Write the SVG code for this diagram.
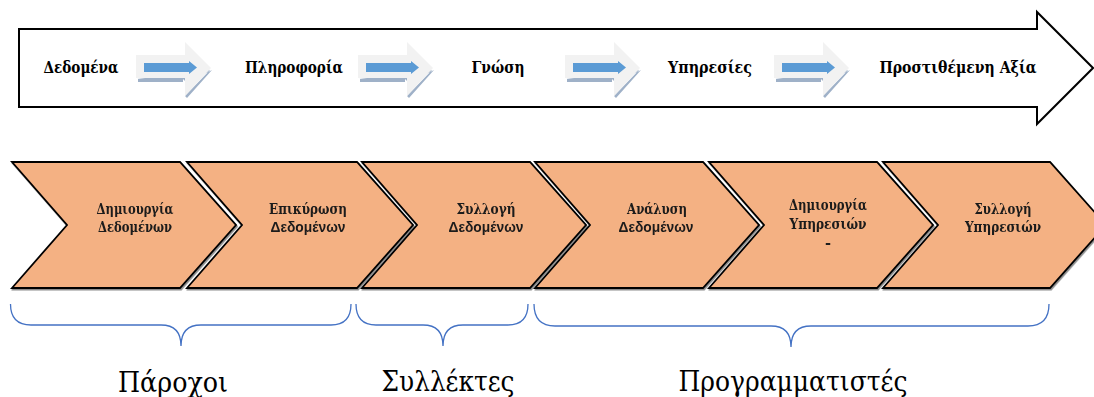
<svg xmlns="http://www.w3.org/2000/svg" width="1094" height="397" viewBox="0 0 1094 397">
  <style>
    .outline { fill: #ffffff; stroke: #000000; stroke-width: 2; }
    .chev { fill: #f4b183; stroke: #000000; stroke-width: 1.8; stroke-linejoin: miter; }
    .head { font-family: "DejaVu Serif", "Liberation Serif", serif; font-weight: bold; font-size: 16.5px; fill: #000000; text-anchor: middle; }
    .lbl { font-family: "DejaVu Serif", "Liberation Serif", serif; font-weight: bold; font-size: 14.5px; fill: #1a1a1a; text-anchor: middle; }
    .lbl-sans { font-family: "Liberation Sans", Arial, sans-serif; font-weight: bold; font-size: 14px; fill: #1a1a1a; text-anchor: middle; }
    .brace { fill: none; stroke: #4472c4; stroke-width: 1.3; }
    .role { font-family: "DejaVu Serif", "Liberation Serif", serif; font-size: 28px; fill: #000000; text-anchor: middle; }
  </style>
  <defs>
    <!-- small block arrow: light body, grey-blue bevel shadow, blue inner arrow -->
    <g id="step-arrow">
      <path d="M1,44 H47 L51,48 L76,35 L51,63 L49,61 L74,35 Z" fill="#9fb1c8"/>
      <path d="M2,44 H47 V47 H2 Z" fill="#9fb1c8"/>
      <path d="M0,20 H49 V7 L75,33 L49,61 V43 H0 Z" fill="#f2f2f2"/>
      <path d="M8,28 H53 V26 L61,32.5 L53,39 V37 H8 Z" fill="#5b9bd5"/>
    </g>
    <filter id="soft-shadow" x="-5%" y="-5%" width="110%" height="115%">
      <feDropShadow dx="1" dy="1.5" stdDeviation="0.6" flood-color="#000000" flood-opacity="0.45"/>
    </filter>
  </defs>

  <!-- value chain banner -->
  <g id="value-chain">
    <path class="outline" d="M19,29 H1037 V12 L1093,68 L1037,124 V107 H19 Z"/>
    <text class="head" x="81" y="73" textLength="75" lengthAdjust="spacingAndGlyphs">Δεδομένα</text>
    <text class="head" x="294" y="73" textLength="98" lengthAdjust="spacingAndGlyphs">Πληροφορία</text>
    <text class="head" x="498" y="73" textLength="53" lengthAdjust="spacingAndGlyphs">Γνώση</text>
    <text class="head" x="710" y="73" textLength="84" lengthAdjust="spacingAndGlyphs">Υπηρεσίες</text>
    <text class="head" x="958" y="73" textLength="157" lengthAdjust="spacingAndGlyphs">Προστιθέμενη Αξία</text>
  </g>

  <g id="connectors">
    <use href="#step-arrow" x="136" y="35"/>
    <use href="#step-arrow" x="358" y="35"/>
    <use href="#step-arrow" x="565" y="35"/>
    <use href="#step-arrow" x="774" y="35"/>
  </g>

  <!-- process chevrons -->
  <g id="chevron-1" filter="url(#soft-shadow)">
    <path class="chev" d="M12,162 H180 L236,225 L180,288 H12 L67,225 Z"/>
    <text class="lbl" x="135" y="214" textLength="77" lengthAdjust="spacingAndGlyphs">Δημιουργία</text>
    <text class="lbl" x="135" y="232" textLength="74" lengthAdjust="spacingAndGlyphs">Δεδομένων</text>
  </g>
  <g id="chevron-2" filter="url(#soft-shadow)">
    <path class="chev" d="M187,162 H357 L413,225 L357,288 H187 L242,225 Z"/>
    <text class="lbl" x="308" y="214" textLength="78" lengthAdjust="spacingAndGlyphs">Επικύρωση</text>
    <text class="lbl-sans" x="308" y="232" textLength="75" lengthAdjust="spacingAndGlyphs">Δεδομένων</text>
  </g>
  <g id="chevron-3" filter="url(#soft-shadow)">
    <path class="chev" d="M362,162 H530 L586,225 L530,288 H362 L417,225 Z"/>
    <text class="lbl" x="486" y="214" textLength="59" lengthAdjust="spacingAndGlyphs">Συλλογή</text>
    <text class="lbl-sans" x="486" y="232" textLength="75" lengthAdjust="spacingAndGlyphs">Δεδομένων</text>
  </g>
  <g id="chevron-4" filter="url(#soft-shadow)">
    <path class="chev" d="M535,162 H703 L759,225 L703,288 H535 L590,225 Z"/>
    <text class="lbl" x="657" y="214" textLength="60" lengthAdjust="spacingAndGlyphs">Ανάλυση</text>
    <text class="lbl-sans" x="656" y="232" textLength="75" lengthAdjust="spacingAndGlyphs">Δεδομένων</text>
  </g>
  <g id="chevron-5" filter="url(#soft-shadow)">
    <path class="chev" d="M709,162 H877 L933,225 L877,288 H709 L764,225 Z"/>
    <text class="lbl" x="828" y="210" textLength="78" lengthAdjust="spacingAndGlyphs">Δημιουργία</text>
    <text class="lbl" x="828" y="229" textLength="77" lengthAdjust="spacingAndGlyphs">Υπηρεσιών</text>
    <text class="lbl" x="828" y="248">-</text>
  </g>
  <g id="chevron-6" filter="url(#soft-shadow)">
    <path class="chev" d="M883,162 H1050 L1106,225 L1050,288 H883 L938,225 Z"/>
    <text class="lbl" x="1003" y="214" textLength="57" lengthAdjust="spacingAndGlyphs">Συλλογή</text>
    <text class="lbl" x="1003" y="232" textLength="76" lengthAdjust="spacingAndGlyphs">Υπηρεσιών</text>
  </g>

  <!-- role braces -->
  <g id="role-providers">
    <path class="brace" d="M10.5,304 Q10.5,325 31,325 H161 Q181,325 181,346 Q181,325 201,325 H331 Q351,325 351,304"/>
    <text class="role" x="173" y="392" textLength="110" lengthAdjust="spacingAndGlyphs">Πάροχοι</text>
  </g>
  <g id="role-collectors">
    <path class="brace" d="M356,304 Q356,325 376,325 H423 Q443,325 443,346 Q443,325 463,325 H508 Q528,325 528,304"/>
    <text class="role" x="448" y="391" textLength="133" lengthAdjust="spacingAndGlyphs">Συλλέκτες</text>
  </g>
  <g id="role-developers">
    <path class="brace" d="M534,304 Q534,326 555,326 H771 Q791,326 791,347 Q791,326 811,326 H1028 Q1049,326 1049,304"/>
    <text class="role" x="793" y="391" textLength="229" lengthAdjust="spacingAndGlyphs">Προγραμματιστές</text>
  </g>
</svg>
